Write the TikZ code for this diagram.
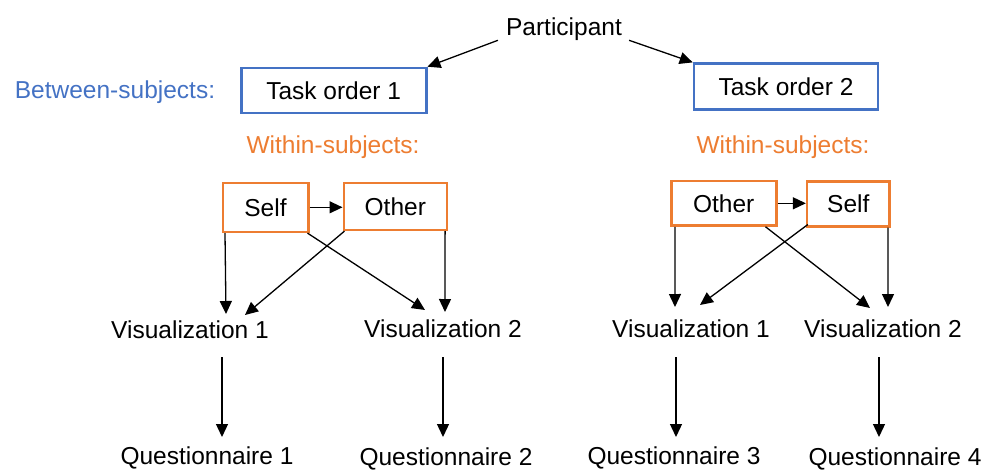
\documentclass[tikz,border=0pt]{standalone}
\usepackage{fontspec}
\setmainfont{Liberation Sans}
\usetikzlibrary{arrows.meta}
\definecolor{ablue}{HTML}{4472C4}
\definecolor{aorange}{HTML}{ED7D31}
\begin{document}
\begin{tikzpicture}[x=1pt,y=-1pt,
  font=\fontsize{24.5}{28}\selectfont,
  lbl/.style={inner sep=0pt, anchor=base},
  taskbox/.style={draw=ablue, line width=2.6pt, inner sep=0pt},
  condbox/.style={draw=aorange, line width=2.6pt, inner sep=0pt},
  arr/.style={-{Triangle[length=13pt,width=12pt]}, line width=1.3pt}]
\useasboundingbox (0,0) rectangle (986,469);

% top level
\node[lbl] (p) at (564,35) {Participant};
\node[lbl, text=ablue] (bs) at (115,98) {Between-subjects:};
\node[taskbox, minimum width=185pt, minimum height=45pt] (t1) at (333.7,90.5) {Task order 1};
\node[taskbox, minimum width=184pt, minimum height=46pt] (t2) at (786,86.7) {Task order 2};
\draw[arr] ([xshift=-8pt]p.south west) -- (t1.north east);
\draw[arr] ([xshift=7pt]p.south east) -- (t2.north west);

% left branch
\node[lbl, text=aorange] (ws1) at (333,153) {Within-subjects:};
\node[condbox, minimum width=85.4pt, minimum height=49pt] (s1) at (265.5,207.3) {Self};
\node[condbox, minimum width=103pt, minimum height=47pt] (o1) at (395.3,206.3) {Other};
\node[lbl] (v1) at (190,338) {Visualization 1};
\node[lbl] (v2) at (443,337) {Visualization 2};
\node[lbl] (q1) at (207,464) {Questionnaire 1};
\node[lbl] (q2) at (446,465) {Questionnaire 2};

\coordinate (v1a) at (226,314);
\coordinate (v1b) at (245,315);
\coordinate (v2a) at (425,310);
\coordinate (v2b) at (445,312);
\coordinate (v1out) at (222,357);
\coordinate (q1in) at (222,437);
\coordinate (v2out) at (443,357);
\coordinate (q2in) at (443,437);

\draw[arr] (s1.east) -- (s1.east -| o1.west);
\draw[arr] ([xshift=3.5pt]s1.south west) -- (v1a);
\draw[arr] ([xshift=-3pt]o1.south east) -- (v2b);
\draw[arr] ([xshift=-2pt]s1.south east) -- (v2a);
\draw[arr] ([xshift=2pt]o1.south west) -- (v1b);
\draw[arr] (v1out) -- (q1in);
\draw[arr] (v2out) -- (q2in);

% right branch
\node[lbl, text=aorange] (ws2) at (783,153) {Within-subjects:};
\node[condbox, minimum width=105pt, minimum height=44.3pt] (o2) at (723.7,203.3) {Other};
\node[condbox, minimum width=82.3pt, minimum height=45pt] (s2) at (848.3,203.7) {Self};
\node[lbl] (v3) at (691,337) {Visualization 1};
\node[lbl] (v4) at (883,337) {Visualization 2};
\node[lbl] (q3) at (674,464) {Questionnaire 3};
\node[lbl] (q4) at (895,465) {Questionnaire 4};

\coordinate (v3a) at (675,307);
\coordinate (v3b) at (700,305);
\coordinate (v4a) at (870,308);
\coordinate (v4b) at (888,307);
\coordinate (v3out) at (676,357);
\coordinate (q3in) at (676,437);
\coordinate (v4out) at (879,357);
\coordinate (q4in) at (879,437);

\draw[arr] (o2.east) -- (o2.east -| s2.west);
\draw[arr] ([xshift=5pt]o2.south west) -- (v3a);
\draw[arr] ([xshift=-2.7pt]s2.south east) -- (v4b);
\draw[arr] ([xshift=-12pt]o2.south east) -- (v4a);
\draw[arr] ([xshift=2pt,yshift=3pt]s2.south west) -- (v3b);
\draw[arr] (v3out) -- (q3in);
\draw[arr] (v4out) -- (q4in);
\end{tikzpicture}
\end{document}
